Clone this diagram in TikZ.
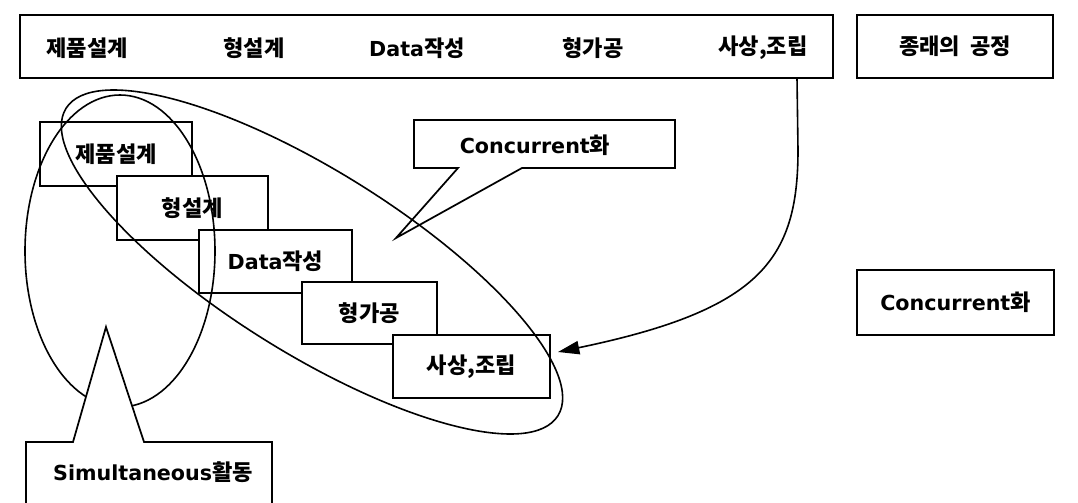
\documentclass[tikz,border=0pt]{standalone}
\usepackage{fontspec}
\setmainfont{DejaVu Sans}
\newfontfamily\ko{Noto Sans CJK KR}[Scale=1.07]
\usetikzlibrary{arrows.meta}
\tikzset{
  lbl/.style={font=\fontsize{15.5}{18}\selectfont\bfseries, inner sep=0pt},
  box/.style={draw, line width=1.3pt, fill=white, inner sep=0pt, lbl},
  curve/.style={line width=1.2pt},
  callout/.style={draw, line width=1.3pt, line join=miter},
  arr/.style={line width=1.2pt, -{Triangle[length=16pt,width=10pt]}}
}
\begin{document}
\begin{tikzpicture}[x=0.75pt,y=-0.75pt]
\useasboundingbox (0,0) rectangle (1078,503);
% top row
\node[box, minimum width=609.75pt, minimum height=47.25pt] (top) at (426.5,46.5) {};
\node[lbl] (t1) at (87,48) {\ko 제품설계};
\node[lbl] (t2) at (254,48) {\ko 형설계};
\node[lbl] (t3) at (417,48) {Data{\ko 작성}};
\node[lbl] (t4) at (593,48) {\ko 형가공};
\node[lbl] (t5) at (763,48) {\ko 사상,조립};
\node[box, minimum width=147pt, minimum height=47.25pt] (conv) at (955,46.5) {\ko 종래의\ \ 공정};
% staircase
\node[box, minimum width=114pt, minimum height=48pt] (s1) at (116,154) {\ko 제품설계};
\node[box, minimum width=113.25pt, minimum height=48pt] (s2) at (192.5,208) {\ko 형설계};
\node[box, minimum width=114.75pt, minimum height=47.25pt] (s3) at (275.5,261.5) {Data{\ko 작성}};
\node[box, minimum width=101.25pt, minimum height=46.5pt] (s4) at (369.5,313) {\ko 형가공};
\node[box, minimum width=117.75pt, minimum height=47.25pt] (s5) at (471.5,366.5) {\ko 사상,조립};
% right label
\node[box, minimum width=147.75pt, minimum height=48.75pt] (conc) at (955.5,302.5) {Concurrent{\ko 화}};
% concurrent callout
\draw[callout, fill=white] (414,120) -- (675,120) -- (675,168) -- (522,168) -- (396,238) -- (458,168) -- (414,168) -- cycle;
\node[lbl] (cc) at (535,145) {Concurrent{\ko 화}};
% ellipses
\draw[curve, rotate around={-32:(312,262)}] (312,262) ellipse [x radius=290, y radius=91];
\draw[curve] (120,251) ellipse [x radius=95, y radius=156];
% simultaneous callout
\draw[callout, fill=white] (26,442) -- (73,442) -- (106,327) -- (144,442) -- (272,442) -- (272,508) -- (26,508) -- cycle;
\node[lbl] (sim) at (153,472) {Simultaneous{\ko 활동}};
% arrow
\coordinate (aS) at (797,78);
\coordinate (aB) at (798,150);
\coordinate (aE) at (558,352);
\draw[arr] (aS) -- (aB) .. controls (798,260) and (760,310) .. (aE);
\end{tikzpicture}
\end{document}
